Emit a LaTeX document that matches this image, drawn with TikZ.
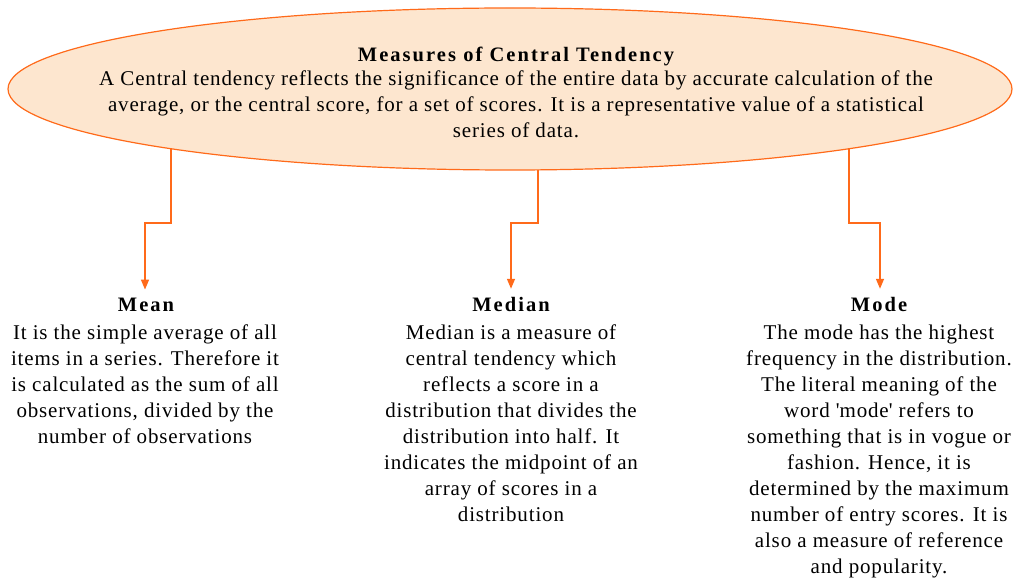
\documentclass[tikz,border=0pt]{standalone}
\usepackage{fontspec}
\setmainfont{Liberation Serif}[LetterSpace=4]
\newfontfamily\headfont{Liberation Serif}[LetterSpace=10]
\usetikzlibrary{arrows.meta,shapes.geometric}
\definecolor{ol}{HTML}{FF6A1A}
\definecolor{ofill}{HTML}{FDE6CF}
\newcommand\lstrut{\rule{0pt}{18pt}}
\begin{document}
\begin{tikzpicture}[x=1pt,y=-1pt,
  txt/.style={inner sep=0pt, outer sep=0pt, align=center, anchor=north,
    font=\fontsize{21}{26}\selectfont},
  head/.style={inner sep=0pt, outer sep=0pt, anchor=base,
    font=\headfont\bfseries\fontsize{20.5}{26}\selectfont},
  conn/.style={draw=ol, line width=1.4pt, -{Triangle[width=8pt,length=10pt]}}]
\useasboundingbox (0,0) rectangle (1013,580);
\node[ellipse, draw=ol, fill=ofill, line width=1.2pt, minimum width=1004pt,
  minimum height=162pt, inner sep=0pt, outer sep=0pt] (top) at (510,89) {};
\node[head] (title) at (516,61.5) {Measures of Central Tendency};
\node[txt] (desc) at (516,68) {\lstrut A Central tendency reflects the significance of the entire data by accurate calculation of the\\
average, or the central score, for a set of scores. It is a representative value of a statistical\\
series of data.};
% headings
\node[head] (meanH) at (146,312) {Mean};
\node[head] (medH) at (511,312) {Median};
\node[head] (modeH) at (879,312) {Mode};
% bodies
\node[txt] (meanB) at (145,321) {\lstrut It is the simple average of all\\
items in a series. Therefore it\\
is calculated as the sum of all\\
observations, divided by the\\
number of observations};
\node[txt] (medB) at (511,321) {\lstrut Median is a measure of\\
central tendency which\\
reflects a score in a\\
distribution that divides the\\
distribution into half. It\\
indicates the midpoint of an\\
array of scores in a\\
distribution};
\node[txt] (modeB) at (879,321) {\lstrut The mode has the highest\\
frequency in the distribution.\\
The literal meaning of the\\
word \textquotesingle mode\textquotesingle{} refers to\\
something that is in vogue or\\
fashion. Hence, it is\\
determined by the maximum\\
number of entry scores. It is\\
also a measure of reference\\
and popularity.};
% bends
\coordinate (mb) at (145,223);
\coordinate (db) at (511,223);
\coordinate (ob) at (880,223);
\draw[conn, shorten >=9pt] (top.190.05) |- (mb) -- (mb |- meanH.north);
\draw[conn, shorten >=9pt] (top.289.73) |- (db) -- (db |- medH.north);
\draw[conn, shorten >=9pt] (top.350.22) |- (ob) -- (ob |- modeH.north);
\end{tikzpicture}
\end{document}
